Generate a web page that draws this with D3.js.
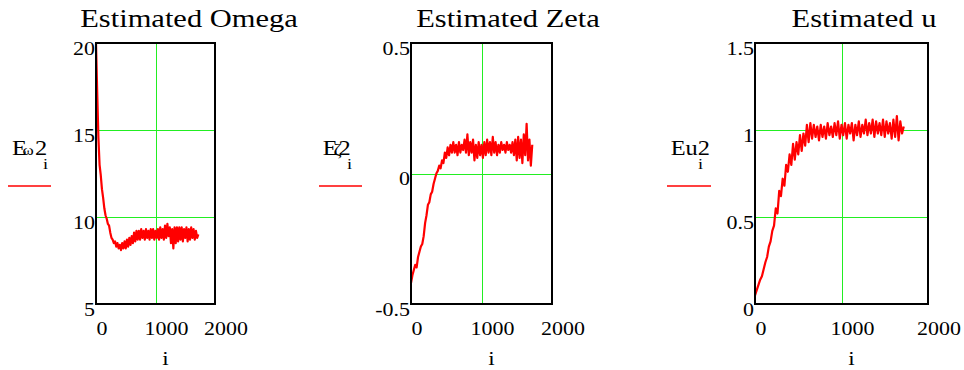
<!DOCTYPE html>
<html>
<head>
<meta charset="utf-8">
<title>Estimated Omega / Zeta / u</title>
<script src="https://d3js.org/d3.v7.min.js"></script>
<style>
body { margin: 0; background: #fff; }
</style>
</head>
<body>
<svg id="chart" width="964" height="370"></svg>
<script>
// samples, one every 20 steps of i (0 .. 1720)
var step = 20;

var omegaVals = [20, 17.2, 14.6, 13.0, 12.4, 11.6, 11.1, 10.5, 10.1, 9.9,
  9.6, 9.5, 9.1, 8.8, 8.7, 8.5, 8.6, 8.3, 8.5, 8.2,
  8.4, 8.1, 8.5, 8.2, 8.6, 8.2, 8.7, 8.3, 8.8, 8.4,
  8.9, 8.5, 9.1, 8.6, 9.2, 8.7, 9.2, 8.7, 9.3, 8.8,
  9.2, 8.7, 9.3, 8.8, 9.2, 8.7, 9.3, 8.8, 9.3, 8.7,
  9.2, 8.8, 9.3, 8.7, 9.4, 8.8, 9.3, 8.7, 9.5, 8.8,
  9.6, 8.9, 9.4, 8.5, 9.3, 8.2, 9.4, 8.5, 9.4, 8.6,
  9.4, 8.7, 9.4, 8.6, 9.3, 8.8, 9.4, 8.6, 9.3, 8.7,
  9.4, 8.8, 9.3, 8.7, 9.2, 8.8, 9.0];

var zetaVals = [-0.42, -0.39, -0.37, -0.35, -0.36, -0.32, -0.30, -0.28, -0.27, -0.24,
  -0.19, -0.16, -0.12, -0.11, -0.08, -0.07, -0.04, -0.02, 0.0, 0.01,
  0.03, 0.02, 0.05, 0.04, 0.08, 0.06, 0.10, 0.07, 0.11, 0.08,
  0.12, 0.08, 0.11, 0.07, 0.12, 0.08, 0.11, 0.09, 0.13, 0.08,
  0.15, 0.07, 0.12, 0.08, 0.13, 0.05, 0.11, 0.06, 0.12, 0.07,
  0.11, 0.06, 0.12, 0.07, 0.13, 0.08, 0.12, 0.07, 0.14, 0.08,
  0.12, 0.07, 0.11, 0.08, 0.12, 0.09, 0.11, 0.08, 0.12, 0.09,
  0.11, 0.08, 0.12, 0.07, 0.13, 0.05, 0.14, 0.06, 0.13, 0.04,
  0.15, 0.07, 0.19, 0.05, 0.13, 0.03, 0.11];

var uVals = [0.05, 0.08, 0.11, 0.14, 0.16, 0.20, 0.24, 0.27, 0.33, 0.36,
  0.42, 0.45, 0.55, 0.52, 0.65, 0.62, 0.72, 0.68, 0.80, 0.76,
  0.86, 0.80, 0.92, 0.83, 0.93, 0.86, 0.97, 0.88, 0.98, 0.91,
  1.03, 0.93, 1.04, 0.95, 1.03, 0.96, 1.02, 0.94, 1.03, 0.96,
  1.02, 0.95, 1.04, 0.97, 1.02, 0.96, 1.04, 0.97, 1.05, 0.95,
  1.03, 0.97, 1.04, 0.95, 1.03, 0.98, 1.04, 0.94, 1.03, 0.97,
  1.05, 0.96, 1.03, 0.98, 1.06, 0.97, 1.04, 0.98, 1.06, 0.96,
  1.05, 0.98, 1.04, 0.97, 1.06, 0.96, 1.05, 0.98, 1.04, 0.95,
  1.06, 0.96, 1.08, 0.94, 1.05, 0.98, 1.02];

var xTicks = [0, 1000, 2000];
var omegaTicks = [5, 10, 15, 20];
var zetaTicks = [-0.5, 0, 0.5];
var uTicks = [0, 0.5, 1, 1.5];
var titles = ["Estimated Omega", "Estimated Zeta", "Estimated u"];

// layout of the three Mathcad-style plots
var plotTop = 43, plotBottom = 304, sx = 1.22;
var serif = "'Liberation Serif', 'Times New Roman', 'DejaVu Serif', serif";
var gridColor = "#22ee22";
var panels = [
  { vals: omegaVals, ticks: omegaTicks, title: titles[0], left: 96, right: 215, titleX: 189,
    legLine: [8, 51], legend: [{t: "E", x: 12, s: 20}, {t: "\u03c9", x: 22.5, s: 14}, {t: "2", x: 35, s: 20}], subX: 43 },
  { vals: zetaVals, ticks: zetaTicks, title: titles[1], left: 411, right: 552, titleX: 508,
    legLine: [319, 362], legend: [{t: "E", x: 322.7, s: 20}, {t: "\u03b6", x: 333.5, s: 16}, {t: "2", x: 338.5, s: 20}], subX: 347 },
  { vals: uVals, ticks: uTicks, title: titles[2], left: 755, right: 928, titleX: 864,
    legLine: [667, 711], legend: [{t: "Eu2", x: 670.7, s: 20}], subX: 698 }
];

var svg = d3.select("#chart");

function stretched(x, y) { return "translate(" + x + "," + y + ") scale(" + sx + ",1)"; }

panels.forEach(function(p) {
  var g = svg.append("g");
  var x = d3.scaleLinear().domain([0, 2000]).range([p.left, p.right]);
  var y = d3.scaleLinear().domain([p.ticks[0], p.ticks[p.ticks.length - 1]]).range([plotBottom, plotTop]);

  // green grid at the inner ticks
  g.append("line").attr("x1", Math.round(x(1000)) + 0.5).attr("x2", Math.round(x(1000)) + 0.5)
    .attr("y1", plotTop).attr("y2", plotBottom)
    .attr("stroke", gridColor).attr("stroke-width", 1);
  g.selectAll(".hgrid").data(p.ticks.slice(1, -1)).enter().append("line")
    .attr("x1", p.left).attr("x2", p.right)
    .attr("y1", function(d) { return Math.round(y(d)) + 0.5; })
    .attr("y2", function(d) { return Math.round(y(d)) + 0.5; })
    .attr("stroke", gridColor).attr("stroke-width", 1);

  // the trace
  var line = d3.line()
    .x(function(d, i) { return x(i * step); })
    .y(function(d) { return y(d); });
  g.append("path").datum(p.vals).attr("d", line)
    .attr("fill", "none").attr("stroke", "#ff0000").attr("stroke-width", 2.2)
    .attr("stroke-linejoin", "round");

  // frame
  g.append("rect").attr("x", p.left).attr("y", plotTop)
    .attr("width", p.right - p.left).attr("height", plotBottom - plotTop)
    .attr("fill", "none").attr("stroke", "#000").attr("stroke-width", 2);

  // y axis labels
  var gy = g.append("g").attr("transform", "translate(" + p.left + ",0)")
    .call(d3.axisLeft(y).tickValues(p.ticks).tickSize(0).tickFormat(function(d) { return String(d); }));
  gy.select(".domain").remove();
  gy.attr("font-family", serif);
  gy.selectAll("text").attr("x", null).attr("dy", null)
    .attr("transform", stretched(-1, 11))
    .attr("text-anchor", "end").style("font-size", "18px").style("font-family", serif).attr("fill", "#000");

  // x axis labels
  var gx = g.append("g").attr("transform", "translate(0," + plotBottom + ")")
    .call(d3.axisBottom(x).tickValues(xTicks).tickSize(0).tickFormat(function(d) { return String(d); }));
  gx.select(".domain").remove();
  gx.attr("font-family", serif);
  gx.selectAll("text").attr("y", null).attr("dy", null)
    .attr("transform", function(d) { return stretched(d === 0 ? 5.5 : 10.5, 31); })
    .attr("text-anchor", "middle").style("font-size", "18px").style("font-family", serif).attr("fill", "#000");

  g.append("text").attr("transform", stretched((p.left + p.right) / 2 + 10, 365))
    .attr("text-anchor", "middle").style("font-size", "19px").style("font-family", serif).text("i");

  // title
  g.append("text").attr("transform", stretched(p.titleX, 27))
    .attr("text-anchor", "middle").style("font-size", "25px").style("font-family", serif).text(p.title);

  // legend
  p.legend.forEach(function(part) {
    g.append("text").attr("transform", stretched(part.x, 155))
      .style("font-size", part.s + "px").style("font-family", serif).text(part.t);
  });
  g.append("text").attr("transform", stretched(p.subX, 169))
    .style("font-size", "15px").style("font-family", serif).text("i");
  g.append("line").attr("x1", p.legLine[0]).attr("x2", p.legLine[1])
    .attr("y1", 186).attr("y2", 186)
    .attr("stroke", "#ff0000").attr("stroke-width", 1.5);
});
</script>
</body>
</html>
